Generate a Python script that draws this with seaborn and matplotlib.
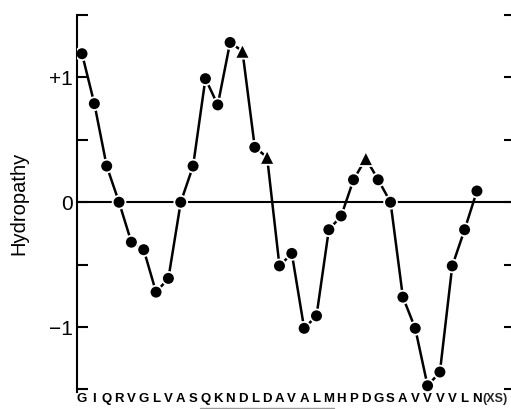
import numpy as np
import pandas as pd
import matplotlib
matplotlib.use('Agg')
import matplotlib.pyplot as plt
import seaborn as sns

# Secuencia de residuos y valores de hidropatía
residuos = ['G', 'I', 'Q', 'R', 'V', 'G', 'L', 'V', 'A', 'S',
            'Q', 'K', 'N', 'D', 'L', 'D', 'A', 'V', 'A', 'L',
            'M', 'H', 'P', 'D', 'G', 'S', 'A', 'V', 'V', 'V',
            'V', 'L', 'N']
hidropatia = [1.19, 0.79, 0.29, 0.0, -0.32, -0.38, -0.72, -0.61, 0.0, 0.29,
              0.99, 0.78, 1.28, 1.21, 0.44, 0.36, -0.51, -0.41, -1.01, -0.91,
              -0.22, -0.11, 0.18, 0.35, 0.18, 0.0, -0.76, -1.01, -1.47, -1.36,
              -0.51, -0.22, 0.09]
tipo_marcador = ['circulo'] * 13 + ['triangulo', 'circulo', 'triangulo'] + \
                ['circulo'] * 7 + ['triangulo'] + ['circulo'] * 9
etiquetas_y = ['', '\u22121', '', '0', '', '+1', '']
valores_y = [-1.5, -1.0, -0.5, 0.0, 0.5, 1.0, 1.5]

df = pd.DataFrame({'pos': np.arange(len(residuos)), 'valor': hidropatia,
                   'tipo': tipo_marcador})

sns.set_theme(style='white')
plt.rcParams['font.family'] = ['Liberation Sans', 'DejaVu Sans']

fig = plt.figure(figsize=(5.11, 4.09), dpi=100)
ax = fig.add_axes([0.1507, 0.0416, 0.8493, 0.9217])

ax.axhline(0, color='black', lw=1.5, zorder=1)
sns.lineplot(data=df, x='pos', y='valor', color='black', lw=1.8, ax=ax, zorder=2)
sns.scatterplot(data=df, x='pos', y='valor', style='tipo', size='tipo',
                markers={'circulo': 'o', 'triangulo': '^'},
                sizes={'circulo': 85, 'triangulo': 115},
                color='black', edgecolor='white', linewidth=1.3,
                legend=False, ax=ax, zorder=3)

ax.set_xlim(-0.405, 34.76)
ax.set_ylim(-1.52, 1.5)

for lado in ['top', 'right', 'bottom']:
    ax.spines[lado].set_visible(False)
ax.spines['left'].set_color('black')
ax.spines['left'].set_linewidth(1.5)

ax.set_yticks(valores_y)
ax.set_yticklabels(etiquetas_y)
ax.tick_params(axis='y', direction='in', length=8, width=1.5, left=True,
               labelsize=15, pad=3, colors='black')
ax.set_xticks(df['pos'])
ax.set_xticklabels(residuos, fontsize=9.5, fontweight='bold')
ax.tick_params(axis='x', length=0, pad=1, colors='black')
ax.set_xlabel('')
ax.set_ylabel('Hydropathy', fontsize=14.5, color='black')
ax.yaxis.set_label_coords(-0.113, 0.5)

# resto de la secuencia
ax.text(32.42, -0.0035, '(XS)', transform=ax.get_xaxis_transform(),
        ha='left', va='top', fontsize=9, fontweight='bold')
# subrayado tenue bajo parte de la secuencia
ax.plot([9.6, 20.4], [-0.043, -0.043], transform=ax.get_xaxis_transform(),
        color='0.6', lw=1, clip_on=False)

# marcas del lado derecho
ax2 = ax.twinx()
ax2.set_ylim(ax.get_ylim())
ax2.set_yticks(valores_y)
ax2.tick_params(axis='y', direction='in', length=5, width=1.5, right=True,
                labelright=False, colors='black')
for lado in ax2.spines:
    ax2.spines[lado].set_visible(False)

fig.savefig('out.png', dpi=100)
